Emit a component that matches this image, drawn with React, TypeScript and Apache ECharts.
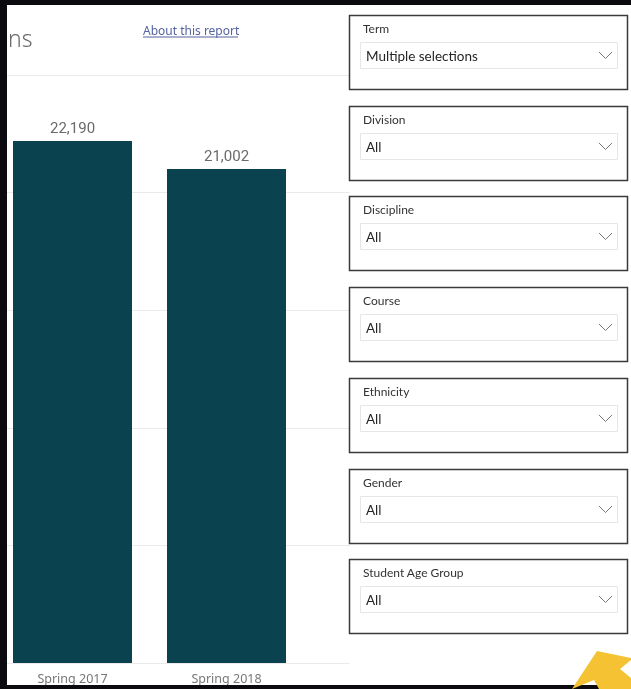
import React, { useEffect, useRef } from "react";
import * as echarts from "echarts";

const categories = ["Spring 2017", "Spring 2018"];
const enrollments = [22190, 21002];
const yMin = 0;
const yMax = 25000;
const yInterval = 5000;
const slicerTitles = ["Term", "Division", "Discipline", "Course", "Ethnicity", "Gender", "Student Age Group"];
const slicerValues = ["Multiple selections", "All", "All", "All", "All", "All", "All"];
const titleText = "ns";
const linkText = "About this report";

export default function App() {
  const ref = useRef<HTMLDivElement>(null);
  useEffect(() => {
    const chart = echarts.init(ref.current!, null, { renderer: "svg" });
    const font = "Lato, 'Noto Sans', sans-serif";
    const g: any[] = [];
    g.push({ type: "rect", z: -100, shape: { x: 0, y: 0, width: 631, height: 689 }, style: { fill: "#0b0b0f" } });
    g.push({ type: "rect", z: -99, shape: { x: 7, y: 5, width: 624, height: 680 }, style: { fill: "#ffffff" } });
    g.push({ type: "text", z: 10, x: 8, y: 38, style: { text: titleText, fill: "#6a6a6a", font: `300 23px 'Noto Sans', sans-serif`, textVerticalAlign: "middle" } });
    g.push({ type: "text", z: 10, x: 143, y: 30, style: { text: linkText, fill: "#5563a0", font: `12px 'Noto Sans', sans-serif`, textVerticalAlign: "middle" } });
    g.push({ type: "line", z: 10, shape: { x1: 143, y1: 37, x2: 238, y2: 37 }, style: { stroke: "#5563a0", lineWidth: 1 } });
    const step = 90.7;
    slicerTitles.forEach((t, i) => {
      const top = Math.round(15 + i * step);
      g.push({ type: "rect", z: 10, shape: { x: 349.5, y: top + 0.5, width: 278, height: 74 }, style: { fill: "#ffffff", stroke: "#3a3a3a", lineWidth: 1.5 } });
      g.push({ type: "text", z: 11, x: 363, y: top + 13, style: { text: t, fill: "#333333", font: `12px ${font}`, textVerticalAlign: "middle" } });
      g.push({ type: "rect", z: 11, shape: { x: 360.5, y: top + 27.5, width: 257, height: 26 }, style: { fill: "#ffffff", stroke: "#e6e6e6", lineWidth: 1 } });
      g.push({ type: "text", z: 12, x: 366, y: top + 41, style: { text: slicerValues[i], fill: "#252525", font: `13.5px ${font}`, textVerticalAlign: "middle" } });
      g.push({ type: "polyline", z: 12, shape: { points: [[599, top + 37], [605.5, top + 43.5], [612, top + 37]] }, style: { stroke: "#777777", lineWidth: 1, fill: null } });
    });
    g.push({ type: "rect", z: 50, shape: { x: 0, y: 685, width: 631, height: 4 }, style: { fill: "#0b0b0f" } });
    g.push({
      type: "polygon",
      z: 60,
      shape: { points: [[597, 651], [631, 658], [631, 660], [620, 669], [631, 678], [631, 689], [599, 689], [594, 680], [572, 689]] },
      style: { fill: "#f4c232" },
    });

    // category index positions on a value axis: centre of first bar at x=72.5, spacing 154px, grid 7..350
    const xMin = (7 - 72.5) / 154;
    const xMax = (350 - 72.5) / 154;

    chart.setOption({
      animation: false,
      backgroundColor: "transparent",
      graphic: g,
      grid: { left: 7, top: 75, width: 343, bottom: 26, containLabel: false },
      xAxis: {
        type: "value",
        min: xMin,
        max: xMax,
        axisLine: { show: false },
        axisTick: { show: false },
        splitLine: { show: false },
        axisLabel: {
          customValues: categories.map((_, i) => i),
          formatter: (v: number) => categories[Math.round(v)] ?? "",
          color: "#777777",
          fontSize: 12.5,
          fontFamily: "'Noto Sans', sans-serif",
          margin: 9,
        },
      },
      yAxis: {
        type: "value",
        min: yMin,
        max: yMax,
        interval: yInterval,
        axisLine: { show: false },
        axisTick: { show: false },
        axisLabel: { show: false },
        splitLine: { show: true, lineStyle: { color: "#eaeaea", width: 1 } },
      },
      series: [
        {
          type: "bar",
          data: enrollments.map((v, i) => [i, v]),
          barWidth: 119,
          itemStyle: { color: "#0a434f" },
          label: {
            show: true,
            position: "top",
            distance: 6,
            color: "#6a6a6a",
            fontSize: 15,
            fontFamily: "Roboto, sans-serif",
            formatter: (p: any) => Number(p.value[1]).toLocaleString("en-US"),
          },
        },
      ],
    });
    return () => chart.dispose();
  }, []);
  return <div ref={ref} style={{ position: "fixed", left: 0, top: 0, width: 631, height: 689 }} />;
}
